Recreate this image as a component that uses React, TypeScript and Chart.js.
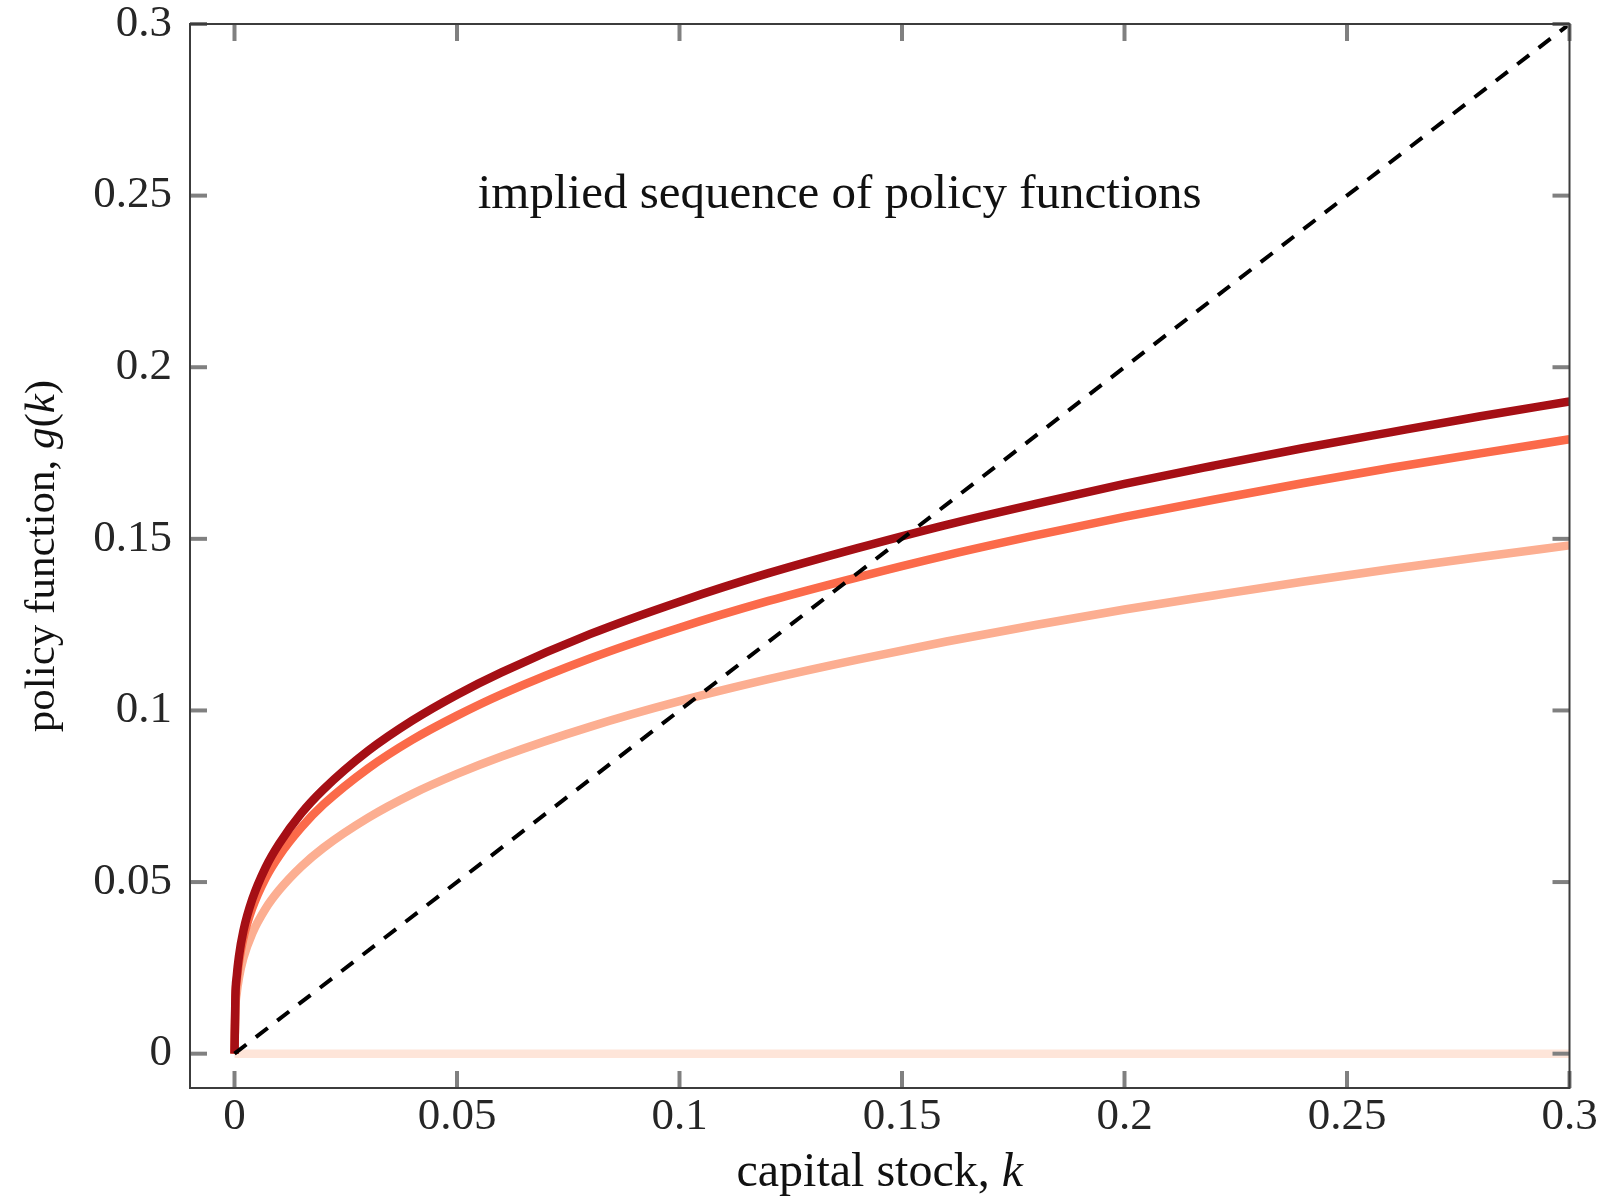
import React, { useEffect, useRef } from "react";
import { Chart, registerables } from "chart.js";

Chart.register(...registerables);

// capital grid (k) at which the curves were read
const kGrid = [0, 0.0002, 0.0005, 0.001, 0.002, 0.004, 0.007, 0.01, 0.015, 0.02, 0.03, 0.04, 0.05, 0.06, 0.08, 0.1, 0.12, 0.14, 0.16, 0.18, 0.2, 0.22, 0.24, 0.26, 0.28, 0.3];

// policy function iterates
const policy1 = [0, 0.0129, 0.0176, 0.0221, 0.0279, 0.0351, 0.0423, 0.0476, 0.0545, 0.0600, 0.0687, 0.0757, 0.0815, 0.0866, 0.0953, 0.1027, 0.1091, 0.1148, 0.1201, 0.1249, 0.1294, 0.1335, 0.1375, 0.1412, 0.1447, 0.1481];
const policy2 = [0, 0.0156, 0.0212, 0.0267, 0.0337, 0.0424, 0.0512, 0.0576, 0.0659, 0.0726, 0.0831, 0.0915, 0.0985, 0.1047, 0.1152, 0.1241, 0.1319, 0.1388, 0.1452, 0.1510, 0.1564, 0.1614, 0.1662, 0.1707, 0.1749, 0.1790];
const policy3 = [0, 0.0166, 0.0225, 0.0284, 0.0358, 0.0450, 0.0543, 0.0611, 0.0700, 0.0770, 0.0882, 0.0971, 0.1046, 0.1111, 0.1223, 0.1317, 0.1400, 0.1473, 0.1541, 0.1602, 0.1660, 0.1713, 0.1764, 0.1811, 0.1857, 0.1900];

// initial guess g0(k) = 0
const zeroK = [0, 0.3];
const policy0 = [0, 0];

// 45-degree line
const diagK = [0, 0.3];
const diagG = [0, 0.3];

const xTickValues = [0, 0.05, 0.1, 0.15, 0.2, 0.25, 0.3];
const xTickLabels = ["0", "0.05", "0.1", "0.15", "0.2", "0.25", "0.3"];
const yTickValues = [0, 0.05, 0.1, 0.15, 0.2, 0.25, 0.3];
const yTickLabels = ["0", "0.05", "0.1", "0.15", "0.2", "0.25", "0.3"];

const titleText = "implied sequence of policy functions";
const titleAt = { x: 0.136, y: 0.25 };

const FONT = '"Liberation Serif", "Times New Roman", serif';

type Part = { text: string; italic?: boolean };
const xLabelParts: Part[] = [{ text: "capital stock, " }, { text: "k", italic: true }];
const yLabelParts: Part[] = [
  { text: "policy function, " },
  { text: "g", italic: true },
  { text: "(" },
  { text: "k", italic: true },
  { text: ")" },
];

function drawRich(ctx: CanvasRenderingContext2D, parts: Part[], cx: number, cy: number, size: number) {
  const fonts = parts.map((p) => `${p.italic ? "italic " : ""}${size}px ${FONT}`);
  const widths = parts.map((p, i) => {
    ctx.font = fonts[i];
    return ctx.measureText(p.text).width;
  });
  const total = widths.reduce((a, b) => a + b, 0);
  let x = cx - total / 2;
  ctx.textAlign = "left";
  ctx.textBaseline = "middle";
  parts.forEach((p, i) => {
    ctx.font = fonts[i];
    ctx.fillText(p.text, x, cy);
    x += widths[i];
  });
}

const decorPlugin = {
  id: "decor",
  afterDraw(chart: any) {
    const { ctx, chartArea: a, scales } = chart;
    const xs = scales.x;
    const ys = scales.y;
    ctx.save();
    // inward tick marks on all four sides
    ctx.strokeStyle = "#808080";
    ctx.lineWidth = 4;
    ctx.lineCap = "butt";
    const L = 17;
    const seg = (x1: number, y1: number, x2: number, y2: number) => {
      ctx.beginPath();
      ctx.moveTo(x1, y1);
      ctx.lineTo(x2, y2);
      ctx.stroke();
    };
    xTickValues.forEach((v) => {
      const px = xs.getPixelForValue(v);
      seg(px, a.bottom, px, a.bottom - L);
      seg(px, a.top, px, a.top + L);
    });
    yTickValues.forEach((v) => {
      const py = ys.getPixelForValue(v);
      seg(a.left, py, a.left + L, py);
      seg(a.right, py, a.right - L, py);
    });
    // axes box
    ctx.strokeStyle = "#3c3c3c";
    ctx.lineWidth = 2;
    ctx.strokeRect(a.left, a.top, a.right - a.left, a.bottom - a.top);

    // in-plot title
    ctx.fillStyle = "#111111";
    ctx.font = `49px ${FONT}`;
    ctx.textAlign = "center";
    ctx.textBaseline = "middle";
    ctx.fillText(titleText, xs.getPixelForValue(titleAt.x), ys.getPixelForValue(titleAt.y));

    // axis titles
    ctx.fillStyle = "#111111";
    drawRich(ctx, xLabelParts, (a.left + a.right) / 2, 1173, 48);
    ctx.save();
    ctx.translate(43, (a.top + a.bottom) / 2);
    ctx.rotate(-Math.PI / 2);
    drawRich(ctx, yLabelParts, 0, 0, 43);
    ctx.restore();
    ctx.restore();
  },
};

export default function App() {
  const ref = useRef<HTMLCanvasElement | null>(null);
  useEffect(() => {
    const canvas = ref.current;
    if (!canvas) return;
    const toXY = (xs: number[], ys: number[]) => xs.map((x, i) => ({ x, y: ys[i] }));
    const common = { pointRadius: 0, pointHoverRadius: 0, fill: false, borderJoinStyle: "round" as const };
    const chart = new Chart(canvas, {
      type: "line",
      data: {
        datasets: [
          { ...common, label: "45-degree line", data: toXY(diagK, diagG), borderColor: "#000000", borderWidth: 4, borderDash: [15, 12], order: 0 },
          { ...common, label: "g3", data: toXY(kGrid, policy3), borderColor: "#a50f15", borderWidth: 8.5, cubicInterpolationMode: "monotone", order: 1 },
          { ...common, label: "g2", data: toXY(kGrid, policy2), borderColor: "#fb6a4a", borderWidth: 8.5, cubicInterpolationMode: "monotone", order: 2 },
          { ...common, label: "g1", data: toXY(kGrid, policy1), borderColor: "#fcae91", borderWidth: 8.5, cubicInterpolationMode: "monotone", order: 3 },
          { ...common, label: "g0", data: toXY(zeroK, policy0), borderColor: "#fee5d9", borderWidth: 8.5, order: 4 },
        ],
      },
      options: {
        animation: false,
        responsive: false,
        events: [],
        layout: { padding: { left: 0, right: 38.5, top: 24, bottom: 0 } },
        plugins: { legend: { display: false }, tooltip: { enabled: false }, title: { display: false } },
        scales: {
          x: {
            type: "linear",
            min: -0.01,
            max: 0.3,
            grid: { display: false, drawTicks: false },
            border: { display: false },
            afterBuildTicks: (s: any) => {
              s.ticks = xTickValues.map((v) => ({ value: v }));
            },
            afterFit: (s: any) => {
              s.height = 108;
              s.paddingLeft = 0;
              s.paddingRight = 0;
            },
            ticks: {
              autoSkip: false,
              maxRotation: 0,
              padding: 7,
              color: "#262626",
              font: { family: FONT, size: 45, lineHeight: 1 },
              callback: (v: any) => {
                const i = xTickValues.findIndex((t) => Math.abs(t - Number(v)) < 1e-9);
                return i >= 0 ? xTickLabels[i] : "";
              },
            },
          },
          y: {
            type: "linear",
            min: -0.01,
            max: 0.3,
            grid: { display: false, drawTicks: false },
            border: { display: false },
            afterBuildTicks: (s: any) => {
              s.ticks = yTickValues.map((v) => ({ value: v }));
            },
            afterFit: (s: any) => {
              s.width = 190;
              s.paddingTop = 0;
              s.paddingBottom = 0;
            },
            ticks: {
              autoSkip: false,
              padding: 18,
              color: "#262626",
              font: { family: FONT, size: 45, lineHeight: 1 },
              callback: (v: any) => {
                const i = yTickValues.findIndex((t) => Math.abs(t - Number(v)) < 1e-9);
                return i >= 0 ? yTickLabels[i] : "";
              },
            },
          },
        },
      },
      plugins: [decorPlugin],
    });
    return () => chart.destroy();
  }, []);
  return (
    <div style={{ position: "absolute", left: 0, top: 0, width: 1608, height: 1196, background: "#ffffff" }}>
      <canvas ref={ref} width={1608} height={1196} style={{ display: "block" }} />
    </div>
  );
}
